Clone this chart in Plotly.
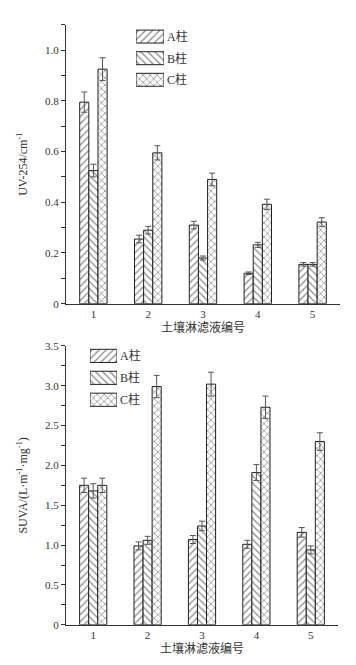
import plotly.graph_objects as go

# ---- data ----
categories = [1, 2, 3, 4, 5]
series_names = ["A柱", "B柱", "C柱"]

uv_A = [0.795, 0.255, 0.310, 0.120, 0.155]
uv_B = [0.525, 0.290, 0.180, 0.232, 0.155]
uv_C = [0.925, 0.595, 0.490, 0.392, 0.322]
uv_A_err = [0.040, 0.015, 0.015, 0.005, 0.007]
uv_B_err = [0.025, 0.015, 0.008, 0.010, 0.007]
uv_C_err = [0.045, 0.028, 0.025, 0.020, 0.017]

suva_A = [1.75, 0.99, 1.07, 1.01, 1.16]
suva_B = [1.68, 1.06, 1.24, 1.91, 0.94]
suva_C = [1.75, 2.99, 3.02, 2.73, 2.30]
suva_A_err = [0.09, 0.05, 0.05, 0.05, 0.06]
suva_B_err = [0.09, 0.05, 0.06, 0.10, 0.05]
suva_C_err = [0.09, 0.14, 0.15, 0.14, 0.11]

uv_ticks = [0, 0.2, 0.4, 0.6, 0.8, 1.0]
uv_ticktext = ["0", "0.2", "0.4", "0.6", "0.8", "1.0"]
suva_ticks = [0, 0.5, 1.0, 1.5, 2.0, 2.5, 3.0, 3.5]
suva_ticktext = ["0", "0.5", "1.0", "1.5", "2.0", "2.5", "3.0", "3.5"]

patterns = ["/", "\\", "x"]

W, H = 356, 665
FONT = "Liberation Serif, Times New Roman, Noto Sans CJK SC, serif"

def px_x(p):
    return p / W

def px_y(p):
    return 1 - p / H

fig = go.Figure()

top_sets = [(uv_A, uv_A_err), (uv_B, uv_B_err), (uv_C, uv_C_err)]
bot_sets = [(suva_A, suva_A_err), (suva_B, suva_B_err), (suva_C, suva_C_err)]

PAT = dict(fgcolor="#222", bgcolor="white", size=5, solidity=0.28)

def add_bars(sets, xa, ya):
    for (vals, errs), name, pat in zip(sets, series_names, patterns):
        fig.add_trace(go.Bar(
            x=categories, y=vals, name=name, xaxis=xa, yaxis=ya,
            showlegend=False,
            marker=dict(color="white",
                        line=dict(color="#222", width=1),
                        pattern=dict(shape=pat, **PAT)),
            error_y=dict(type="data", array=errs, visible=True,
                         color="#555", thickness=1, width=3),
        ))

add_bars(top_sets, "x", "y")
add_bars(bot_sets, "x2", "y2")

# legend swatches drawn as bars on small hidden axes
def add_legend(xa, ya):
    fig.add_trace(go.Bar(
        x=[1, 1, 1], y=series_names, orientation="h", xaxis=xa, yaxis=ya,
        showlegend=False, width=0.6, hoverinfo="skip",
        marker=dict(color="white", line=dict(color="#222", width=1),
                    pattern=dict(shape=patterns, **PAT)),
    ))

add_legend("x3", "y3")
add_legend("x4", "y4")

axis_common = dict(showline=True, linecolor="#333", linewidth=1.3,
                   showgrid=False, zeroline=False, mirror=False,
                   tickfont=dict(family=FONT, size=11, color="#333"))

xdom = [px_x(58), px_x(332)]
layout = dict(
    width=W, height=H,
    margin=dict(l=0, r=0, t=0, b=0),
    paper_bgcolor="white", plot_bgcolor="white",
    barmode="group", bargap=0.5, bargroupgap=0,
    font=dict(family=FONT, size=12, color="#333"),
    xaxis=dict(domain=xdom, anchor="y", range=[0.5, 5.5], tickvals=categories,
               ticks="", ticklen=0,
               title=dict(text="土壤淋滤液编号", font=dict(size=12), standoff=2),
               **axis_common),
    yaxis=dict(domain=[px_y(295), px_y(11)], anchor="x", range=[0, 1.1],
               tickvals=uv_ticks, ticktext=uv_ticktext,
               ticks="outside", ticklen=4, tickcolor="#333", tickwidth=1,
               minor=dict(dtick=0.1, tick0=0, ticks="outside", ticklen=4, tickcolor="#333"),
               title=dict(text="UV-254/cm<sup>-1</sup>", font=dict(size=12), standoff=14),
               **axis_common),
    xaxis2=dict(domain=[px_x(58), px_x(330)], anchor="y2", range=[0.5, 5.5],
                tickvals=categories, ticks="", ticklen=0,
                title=dict(text="土壤淋滤液编号", font=dict(size=12), standoff=4),
                **axis_common),
    yaxis2=dict(domain=[px_y(622), px_y(338)], anchor="x2", range=[0, 3.5],
                tickvals=suva_ticks, ticktext=suva_ticktext,
                ticks="outside", ticklen=4, tickcolor="#333", tickwidth=1,
                minor=dict(dtick=0.25, tick0=0, ticks="outside", ticklen=4, tickcolor="#333"),
                title=dict(text="SUVA/(L·m<sup>-1</sup>·mg<sup>-1</sup>)", font=dict(size=12), standoff=14),
                **axis_common),
    xaxis3=dict(domain=[px_x(128), px_x(156)], anchor="y3", range=[0, 1], visible=False),
    yaxis3=dict(domain=[px_y(78), px_y(12)], anchor="x3", visible=False,
                categoryorder="array", categoryarray=series_names[::-1]),
    xaxis4=dict(domain=[px_x(82), px_x(109)], anchor="y4", range=[0, 1], visible=False),
    yaxis4=dict(domain=[px_y(404), px_y(337)], anchor="x4", visible=False,
                categoryorder="array", categoryarray=series_names[::-1]),
)
fig.update_layout(**layout)

for xa, ya in [("x3", "y3"), ("x4", "y4")]:
    for name in series_names:
        fig.add_annotation(x=1, y=name, xref=xa, yref=ya, text=name,
                           showarrow=False, xanchor="left", xshift=1,
                           font=dict(family=FONT, size=12, color="#333"))

fig.write_html("out.html")
